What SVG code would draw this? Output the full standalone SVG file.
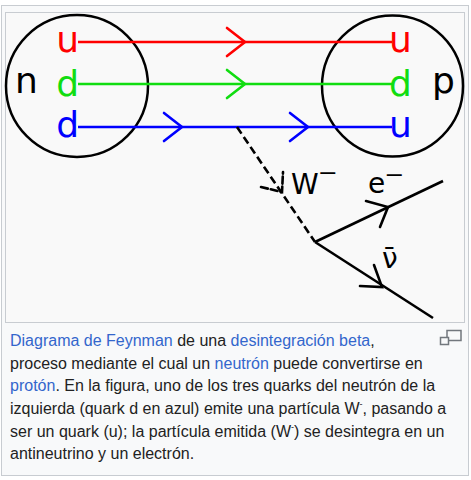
<svg xmlns="http://www.w3.org/2000/svg" width="471" height="480" viewBox="0 0 471 480">
<defs>
<style>
.frame{fill:#f8f9fa;stroke:#c8ccd1;stroke-width:1}
.q{font-family:"DejaVu Sans",sans-serif;font-size:36px}
.lab{font-family:"DejaVu Sans",sans-serif;font-size:28px;fill:#000}
.sup{font-size:38px}
.circ{fill:none;stroke:#000;stroke-width:2.5}
.ln{fill:none;stroke-width:2.6;stroke-linecap:butt}
.arr{fill:none;stroke-width:2.6;stroke-linecap:round;stroke-linejoin:miter}
.cap{font-family:"Liberation Sans",Arial,sans-serif;font-size:16px;fill:#222}
.lk{fill:#3366cc}
</style>
</defs>
<rect class="frame" x="1.5" y="5.5" width="467" height="470"/>
<rect class="frame" x="5.5" y="12.5" width="459" height="310" style="fill:#f9f9f9"/>

<g id="neutron">
<circle class="circ" cx="77" cy="86" r="71"/>
<text class="q" x="15" y="93" fill="#000">n</text>
<text class="q" x="79" y="52" fill="#ff0000" text-anchor="end">u</text>
<text class="q" x="79" y="96" fill="#11dd11" text-anchor="end">d</text>
<text class="q" x="79" y="137" fill="#0000ff" text-anchor="end">d</text>
</g>

<g id="proton">
<circle class="circ" cx="392.5" cy="86" r="70.5"/>
<text class="q" x="389" y="52" fill="#ff0000">u</text>
<text class="q" x="389" y="96" fill="#11dd11">d</text>
<text class="q" x="389" y="137" fill="#0000ff">u</text>
<text class="q" x="432" y="93" fill="#000">p</text>
</g>

<g id="labels">
<text class="lab" x="291" y="194">W<tspan class="sup" dx="-1" dy="-2">⁻</tspan></text>
<text class="lab" x="368" y="193">e<tspan class="sup" dx="-1" dy="1">⁻</tspan></text>
<text class="lab" x="382" y="268">ν̄</text>
</g>

<g id="connectors">
<path class="ln" stroke="#ff0000" d="M78 42H392"/>
<path class="arr" stroke="#ff0000" d="M227 28L245 42L227 56"/>
<path class="ln" stroke="#11dd11" d="M78 84H392"/>
<path class="arr" stroke="#11dd11" d="M227 70L245 84L227 98"/>
<path class="ln" stroke="#0000ff" d="M78 127H392"/>
<path class="arr" stroke="#0000ff" d="M164 113L182 127L164 141"/>
<path class="arr" stroke="#0000ff" d="M290 113L308 127L290 141"/>
<path class="ln" stroke="#000" stroke-dasharray="8 4" d="M237 127L315 242"/>
<path class="arr" stroke="#000" stroke-dasharray="7 3" d="M261 187L282 192L283 172"/>
<path class="ln" stroke="#000" d="M315 242L443 181"/>
<path class="arr" stroke="#000" d="M366 201L388 207L380 227"/>
<path class="ln" stroke="#000" d="M315 242L433 318"/>
<path class="arr" stroke="#000" d="M374 265L382 287L360 286"/>
</g>

<g id="caption">
<text class="cap" x="10" y="346"><tspan class="lk">Diagrama de Feynman</tspan> de una <tspan class="lk">desintegración beta</tspan>,</text>
<text class="cap" x="10" y="369">proceso mediante el cual un <tspan class="lk">neutrón</tspan> puede convertirse en</text>
<text class="cap" x="10" y="391"><tspan class="lk">protón</tspan>. En la figura, uno de los tres quarks del neutrón de la</text>
<text class="cap" x="10" y="414">izquierda (quark d en azul) emite una partícula W<tspan font-size="9" dy="-7">-</tspan><tspan dy="7">, pasando a</tspan></text>
<text class="cap" x="10" y="437">ser un quark (u); la partícula emitida (W<tspan font-size="9" dy="-7">-</tspan><tspan dy="7">) se desintegra en un</tspan></text>
<text class="cap" x="10" y="459">antineutrino y un electrón.</text>
</g>

<g id="magnify" fill="none" stroke="#72777d" stroke-width="1.5">
<rect x="447" y="330.5" width="14" height="10"/>
<rect x="440.5" y="337.5" width="8" height="7" fill="#f8f9fa"/>
</g>
</svg>
